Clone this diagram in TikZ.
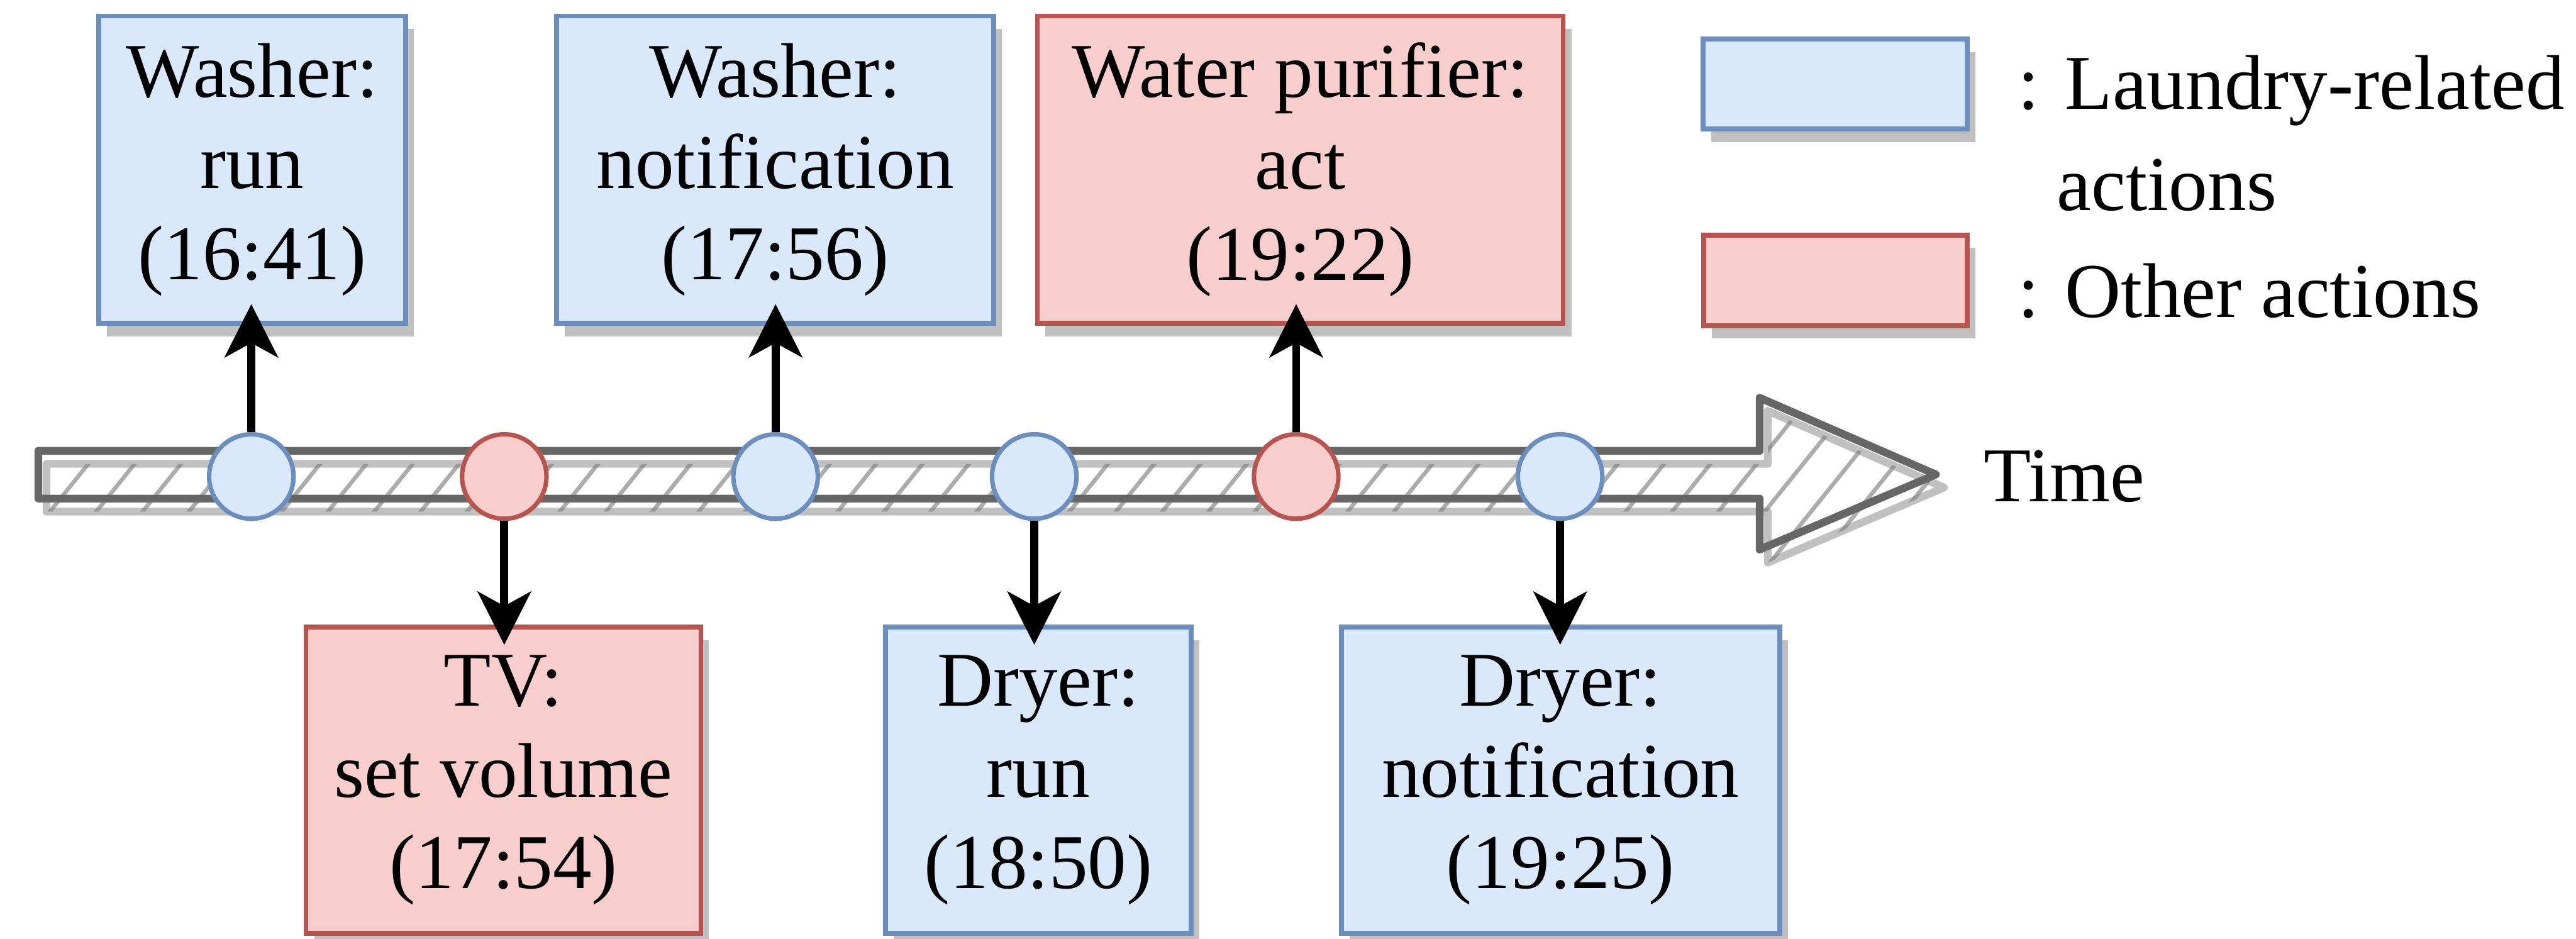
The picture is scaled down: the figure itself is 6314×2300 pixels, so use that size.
\documentclass[tikz,border=0pt]{standalone}
\usepackage{fontspec}
\setmainfont{Liberation Serif}
\newfontfamily\labelfont{Liberation Serif}
\usetikzlibrary{arrows.meta,shadows}

\definecolor{bluefill}{HTML}{DAE8FC}
\definecolor{bluedraw}{HTML}{6C8EBF}
\definecolor{redfill}{HTML}{F8CECC}
\definecolor{reddraw}{HTML}{B85450}
\definecolor{axisgray}{HTML}{666666}
\definecolor{shadowgray}{HTML}{C0C0C0}
\definecolor{hatchgray}{HTML}{808080}

\begin{document}
\begin{tikzpicture}[x=0.1pt,y=-0.1pt,
  txt/.style={font={\labelfont\fontsize{19pt}{22.4pt}\selectfont}},
  action/.style={txt, rectangle, draw, line width=1.2pt, align=center, inner sep=0pt,
    execute at begin node={\rule{0pt}{15.8pt}},
    drop shadow={shadow xshift=2pt, shadow yshift=-3.2pt, fill=shadowgray, opacity=1}},
  laundry/.style={action, fill=bluefill, draw=bluedraw},
  other/.style={action, fill=redfill, draw=reddraw},
  event/.style={circle, line width=1.1pt, minimum size=20.7pt, inner sep=0pt},
  evlaundry/.style={event, fill=bluefill, draw=bluedraw},
  evother/.style={event, fill=redfill, draw=reddraw},
  label/.style={txt, anchor=base west, inner sep=0pt},
  hatch/.style={hatchgray, opacity=0.65, line width=1pt, line cap=round},
  conn/.style={line width=2pt, -{Stealth[length=13pt,width=13pt,inset=3.5pt]}},
]
\useasboundingbox (0,0) rectangle (6314,2300);

% timeline: shadow with hatching
\begin{scope}[shift={(20,32)}]
  \draw[shadowgray, line width=1.9pt, line join=round]
    (94,1105) -- (4313,1105) -- (4313,975) -- (4745,1163) -- (4313,1347) -- (4313,1222) -- (94,1222) -- cycle;
  \begin{scope}
    \clip (94,1105) -- (4313,1105) -- (4313,975) -- (4745,1163) -- (4313,1347) -- (4313,1222) -- (94,1222) -- cycle;
    \foreach \i in {0,...,43} {
      \draw[hatch] ({96+113.6*\i-153},1420) -- ({96+113.6*\i+217},960);
    }
  \end{scope}
\end{scope}
% timeline outline
\draw[axisgray, line width=1.9pt, line join=round]
  (94,1105) -- (4313,1105) -- (4313,975) -- (4745,1163) -- (4313,1347) -- (4313,1222) -- (94,1222) -- cycle;
\node[label] (time) at (4860,1230) {Time};

% events on the timeline
\node[evlaundry] (c1) at (616,1168) {};
\node[evother]   (c2) at (1236,1168) {};
\node[evlaundry] (c3) at (1901,1168) {};
\node[evlaundry] (c4) at (2535,1168) {};
\node[evother]   (c5) at (3177,1168) {};
\node[evlaundry] (c6) at (3824,1168) {};

% action boxes
\node[laundry, minimum width=75.3pt,  minimum height=75.3pt] (b1) at (618,416)  {Washer:\\run\\(16:41)};
\node[laundry, minimum width=107.1pt, minimum height=75.3pt] (b2) at (1900,416) {Washer:\\notification\\(17:56)};
\node[other,   minimum width=128.9pt, minimum height=75.3pt] (b3) at (3187,416) {Water purifier:\\act\\(19:22)};
\node[other,   minimum width=96.8pt,  minimum height=75.1pt] (b4) at (1234,1912) {TV:\\set volume\\(17:54)};
\node[laundry, minimum width=75.0pt,  minimum height=75.1pt] (b5) at (2545,1912) {Dryer:\\run\\(18:50)};
\node[laundry, minimum width=107.5pt, minimum height=75.1pt] (b6) at (3825,1912) {Dryer:\\notification\\(19:25)};

% connectors
\draw[conn, shorten >=-5.3pt] (c1.north) -- (c1.north |- b1.south);
\draw[conn, shorten >=-5.3pt] (c3.north) -- (c3.north |- b2.south);
\draw[conn, shorten >=-5.3pt] (c5.north) -- (c5.north |- b3.south);
\draw[conn, shorten >=-5pt] (c2.south) -- (c2.south |- b4.north);
\draw[conn, shorten >=-5pt] (c4.south) -- (c4.south |- b5.north);
\draw[conn, shorten >=-5pt] (c6.south) -- (c6.south |- b6.north);

% legend
\node[laundry, minimum width=64.8pt, minimum height=22pt]   (lg1) at (4498,206) {};
\node[other,   minimum width=64.6pt, minimum height=22.2pt] (lg2) at (4499,687) {};
\node[label] (lt1) at (4944,268) {: Laundry-related};
\node[label] (lt2) at (5040,515) {actions};
\node[label] (lt3) at (4944,778) {: Other actions};
\end{tikzpicture}
\end{document}
